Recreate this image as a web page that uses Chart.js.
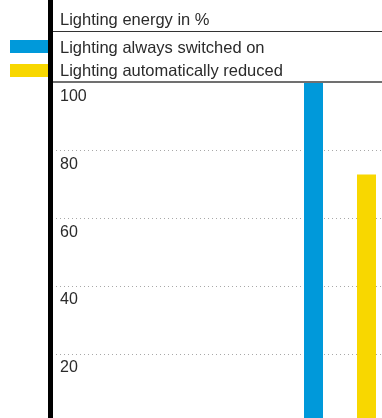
<!DOCTYPE html>
<html>
<head>
<meta charset="utf-8">
<script src="https://cdn.jsdelivr.net/npm/chart.js@4/dist/chart.umd.min.js"></script>
<style>
    html, body { margin: 0; padding: 0; background: #fff; overflow: hidden; }
    #wrap { position: relative; width: 382px; height: 418px; overflow: hidden; }
    #wrap canvas { position: absolute; left: 0; top: 0; }
    .txt {
        position: absolute; left: 60px; white-space: nowrap;
        font-family: 'Liberation Sans', Arial, sans-serif; font-size: 16.5px;
        line-height: 20px; color: #2b2b2b;
    }
    .swatch { position: absolute; left: 10px; width: 38px; height: 13px; }
    .rule { position: absolute; left: 52px; right: 0; }
    #axisLine { position: absolute; left: 48px; top: 0; width: 5px; height: 418px; background: #000; }
</style>
</head>
<body>
<div id="wrap">
    <canvas id="energyChart" width="628" height="426"></canvas>
    <div class="txt" id="chartTitle" style="top: 9px;"></div>
    <div class="rule" style="top: 31px; height: 1px; background: #333;"></div>
    <div class="swatch" id="swatch0" style="top: 40px;"></div>
    <div class="txt" id="legend0" style="top: 37px;"></div>
    <div class="swatch" id="swatch1" style="top: 64px;"></div>
    <div class="txt" id="legend1" style="top: 60px;"></div>
    <div class="rule" style="top: 81px; height: 2px; background: #707070;"></div>
    <div id="axisLine"></div>
</div>
<script>
    // Lighting energy, in percent of the always-on case
    const title = 'Lighting energy in %';
    const categories = ['Lighting energy'];
    const seriesNames = ['Lighting always switched on', 'Lighting automatically reduced'];
    const alwaysOn = [100];
    const reduced = [73];
    const seriesColors = ['#0099da', '#f8d700'];
    const yTicks = [0, 20, 40, 60, 80, 100];

    // Header and legend
    document.getElementById('chartTitle').textContent = title;
    seriesNames.forEach((name, i) => {
        document.getElementById('legend' + i).textContent = name;
        document.getElementById('swatch' + i).style.background = seriesColors[i];
    });

    const ctx = document.getElementById('energyChart').getContext('2d');
    new Chart(ctx, {
        type: 'bar',
        data: {
            labels: categories,
            datasets: [
                { label: seriesNames[0], data: alwaysOn, backgroundColor: seriesColors[0] },
                { label: seriesNames[1], data: reduced, backgroundColor: seriesColors[1] }
            ]
        },
        options: {
            responsive: false,
            animation: false,
            devicePixelRatio: 1,
            categoryPercentage: 0.184,
            barPercentage: 0.3585,
            layout: { padding: { top: 83, left: 52, right: 0, bottom: 4 } },
            plugins: {
                legend: { display: false },
                title: { display: false },
                tooltip: { enabled: false }
            },
            scales: {
                x: { display: false },
                y: {
                    min: yTicks[0],
                    max: yTicks[yTicks.length - 1],
                    afterBuildTicks: (axis) => { axis.ticks = yTicks.map(v => ({ value: v })); },
                    // labels sit inside the plot, so the axis takes no room of its own
                    afterFit: (axis) => {
                        axis.width = 0;
                        axis.paddingTop = 0;
                        axis.paddingBottom = 0;
                    },
                    grid: {
                        drawTicks: false,
                        lineWidth: 1,
                        color: (c) => c.tick && c.tick.value === 100 ? 'rgba(0,0,0,0)' : '#a8a8a8'
                    },
                    border: { display: false, dash: [1, 3] },
                    ticks: {
                        mirror: true,
                        padding: 8,
                        labelOffset: 13.5,
                        color: '#2b2b2b',
                        font: { family: "'Liberation Sans', Arial, sans-serif", size: 16 }
                    }
                }
            }
        }
    });
</script>
</body>
</html>
